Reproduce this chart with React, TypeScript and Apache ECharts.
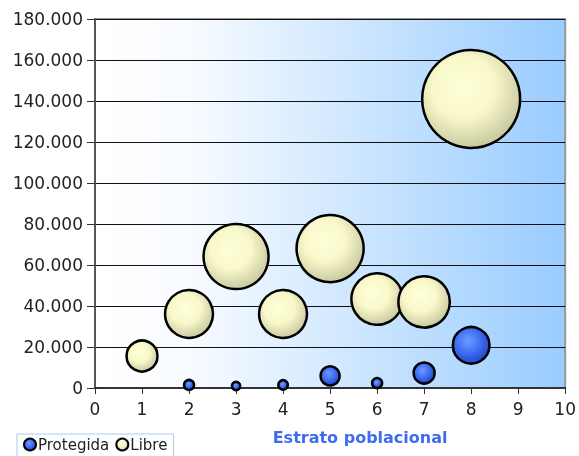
import React, { useEffect, useRef } from "react";
import * as echarts from "echarts";

const xTicks = [0, 1, 2, 3, 4, 5, 6, 7, 8, 9, 10];
const strata = [1, 2, 3, 4, 5, 6, 7, 8];
const protegidaX = [2, 3, 4, 5, 6, 7, 8];
const protegidaY = [1500, 1000, 1500, 5900, 2400, 7300, 20800];
const protegidaSize = [1.0, 0.7, 0.9, 3.6, 1.0, 4.4, 13.4];
const libreY = [15600, 36100, 64100, 36100, 68000, 43400, 42000, 141000];
const libreSize = [9.6, 23.0, 42.3, 23.0, 45.0, 26.5, 26.5, 96.0];

const fmt = (v: number) => String(v).replace(/\B(?=(\d{3})+(?!\d))/g, ".");
const FONT = "DejaVu Sans";

export default function App() {
  const ref = useRef<HTMLDivElement>(null);
  useEffect(() => {
    if (!ref.current) return;
    const chart = echarts.init(ref.current, undefined, { renderer: "svg" });
    const libreGrad = new echarts.graphic.RadialGradient(0.42, 0.38, 0.7, [
      { offset: 0, color: "#FFFFD8" },
      { offset: 0.45, color: "#F8F8CA" },
      { offset: 1, color: "#BFBF98" },
    ]);
    const protGrad = new echarts.graphic.RadialGradient(0.42, 0.38, 0.7, [
      { offset: 0, color: "#6E9BFF" },
      { offset: 0.5, color: "#3D6CF5" },
      { offset: 1, color: "#1C3DB5" },
    ]);
    const sizeFn = (v: number[]) => 10 * Math.sqrt(v[2]);
    chart.setOption({
      animation: false,
      textStyle: { fontFamily: FONT },
      grid: {
        left: 95,
        top: 19,
        right: 12,
        bottom: 68,
        show: true,
        borderColor: "#999",
        borderWidth: 2,
        backgroundColor: new echarts.graphic.LinearGradient(0, 0, 1, 0, [
          { offset: 0, color: "#FFFFFF" },
          { offset: 0.2, color: "#F8FBFF" },
          { offset: 1, color: "#99CCFF" },
        ]),
      },
      legend: {
        left: 17,
        top: 434,
        orient: "horizontal",
        icon: "circle",
        itemWidth: 12,
        itemHeight: 12,
        itemGap: 6,
        padding: [3, 6, 6, 6],
        backgroundColor: "#fff",
        borderColor: "#A8CCF0",
        borderWidth: 1,
        borderRadius: 0,
        textStyle: { fontFamily: FONT, fontSize: 15, color: "#222", padding: [0, 0, 0, -3] },
        data: ["Protegida", "Libre"],
      },
      xAxis: {
        type: "value",
        min: 0,
        max: 10,
        interval: 1,
        name: "Estrato poblacional",
        nameLocation: "middle",
        nameGap: 41,
        nameTextStyle: {
          fontFamily: FONT,
          fontSize: 16,
          fontWeight: "bold",
          color: "#3D6CF0",
          padding: [0, 0, 0, 60],
        },
        axisLine: { show: true, lineStyle: { color: "#333", width: 2 } },
        axisTick: { show: true, length: 6, lineStyle: { color: "#333", width: 1 } },
        axisLabel: {
          margin: 12,
          fontFamily: FONT,
          fontSize: 17,
          color: "#222",
          formatter: (v: number) => (xTicks.includes(v) ? String(v) : ""),
        },
        splitLine: { show: false },
      },
      yAxis: {
        type: "value",
        min: 0,
        max: 180000,
        interval: 20000,
        axisLine: { show: true, lineStyle: { color: "#555", width: 2 } },
        axisTick: { show: true, length: 8, lineStyle: { color: "#333", width: 1 } },
        axisLabel: {
          margin: 12,
          fontFamily: FONT,
          fontSize: 17,
          color: "#222",
          formatter: (v: number) => fmt(v),
        },
        splitLine: { show: true, lineStyle: { color: "#111", width: 1 } },
      },
      series: [
        {
          name: "Libre",
          type: "scatter",
          symbol: "circle",
          clip: false,
          z: 2,
          data: strata.map((x, i) => [x, libreY[i], libreSize[i]]),
          symbolSize: sizeFn,
          itemStyle: { color: libreGrad, borderColor: "#000", borderWidth: 2.5, opacity: 1 },
          emphasis: { disabled: true },
        },
        {
          name: "Protegida",
          type: "scatter",
          symbol: "circle",
          clip: false,
          z: 3,
          data: protegidaX.map((x, i) => [x, protegidaY[i], protegidaSize[i]]),
          symbolSize: sizeFn,
          itemStyle: { color: protGrad, borderColor: "#000", borderWidth: 2.5, opacity: 1 },
          emphasis: { disabled: true },
        },
      ],
    });
    return () => chart.dispose();
  }, []);
  return (
    <div
      ref={ref}
      style={{ position: "fixed", left: 0, top: 0, width: 579, height: 456 }}
    />
  );
}
